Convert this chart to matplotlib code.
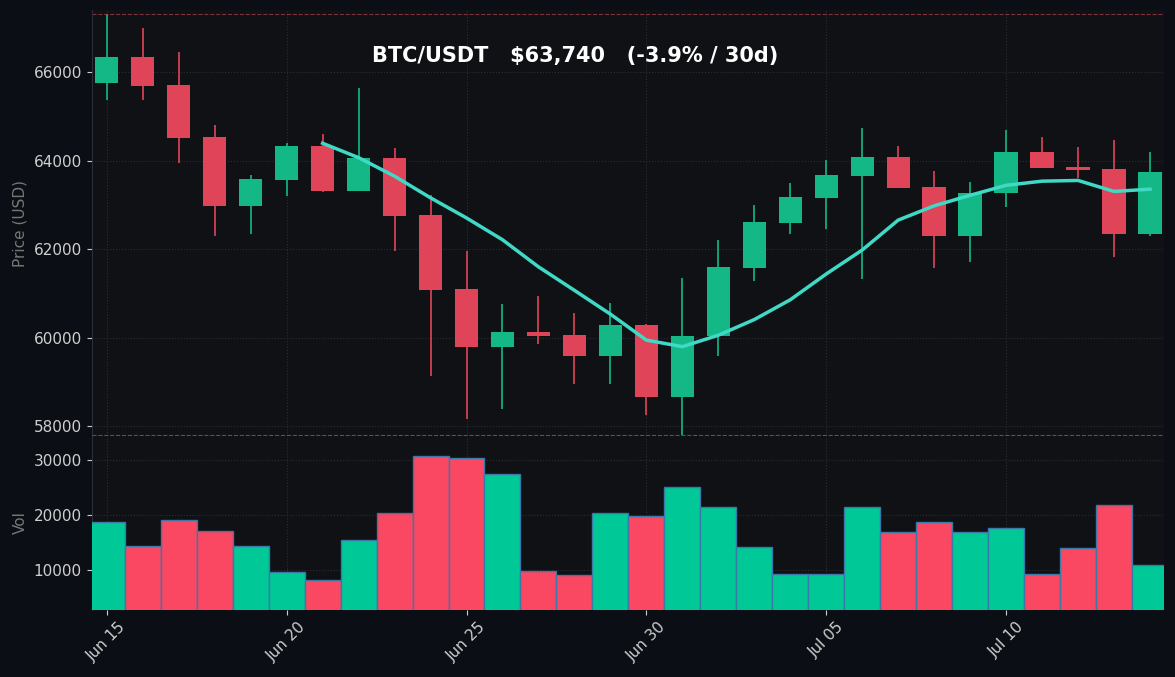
import numpy as np
import pandas as pd
import matplotlib
matplotlib.use("Agg")
import matplotlib.pyplot as plt

dates = pd.date_range("2024-06-15", periods=30, freq="D")
opens  = [65752,66338,65707,64535,62980,63566,64332,63318,64062,62777,61109,59801,60140,60072,59598,
          60297,58652,60050,61583,62597,63160,63656,64084,63408,62304,63273,64197,63859,63814,62349]
closes = [66338,65684,64512,62980,63588,64332,63318,64062,62754,61086,59801,60140,60050,59598,60297,
          58652,60050,61605,62619,63182,63678,64084,63385,62304,63273,64197,63836,63791,62349,63740]
highs  = [67307,66992,66451,64805,63678,64400,64603,65640,64287,63228,61965,60771,60951,60568,60793,
          60300,61357,62213,63002,63498,64016,64738,64332,63768,63520,64693,64535,64310,64467,64197]
lows   = [65369,65369,63949,62304,62349,63205,63295,63318,61965,59125,58156,58381,59869,58945,58945,
          58246,57800,59598,61289,62349,62461,61334,63385,61582,61717,62957,63836,63611,61830,62304]
volumes = [18727,14363,19090,17090,14363,9636,8182,15454,20363,30727,30363,27454,9818,9090,20363,
           19818,25090,21454,14182,9272,9272,21454,16909,18727,16909,17636,9272,14000,21818,10909]
title = "BTC/USDT   $63,740   (-3.9% / 30d)"

GREEN, RED = "#13b886", "#e04459"
VG, VR = "#00c896", "#fa4762"
BG, AX = "#0b0e14", "#0f1115"
x = np.arange(len(dates))
o, c, h, l = map(np.array, (opens, closes, highs, lows))
up = c >= o
ma = pd.Series(closes).rolling(7).mean()

fig = plt.figure(figsize=(11.75, 6.77), dpi=100, facecolor=BG)
ax = fig.add_axes([0.078, 0.356, 0.913, 0.629], facecolor=AX)
axv = fig.add_axes([0.078, 0.099, 0.913, 0.257], facecolor=AX, sharex=ax)

for i in x:
    col = GREEN if up[i] else RED
    ax.vlines(i, l[i], h[i], color=col, lw=1.2, zorder=2)
    lo, hi = min(o[i], c[i]), max(o[i], c[i])
    ax.bar(i, max(hi - lo, 30), bottom=lo, width=0.65, color=col, zorder=3)
ax.plot(x, ma, color="#3fd9c6", lw=2.5, zorder=4)
ax.axhline(max(highs), color="#b0404f", ls="--", lw=0.8, alpha=0.7)
ax.axhline(min(lows), color="#1e9e80", ls="--", lw=0.8, alpha=0.7, zorder=5)
ax.text(0.451, 0.892, title, transform=ax.transAxes, ha="center", va="center",
        color="white", fontsize=15, fontweight="bold")
ax.set_ylim(57780, 67400)
ax.set_yticks([58000, 60000, 62000, 64000, 66000])
ax.set_ylabel("Price (USD)", color="#777777", fontsize=11)

axv.bar(x, volumes, width=1.0, color=[VG if u else VR for u in up],
        edgecolor="#3a78a8", linewidth=1, zorder=3)
axv.set_ylim(2700, 34400)
axv.set_yticks([10000, 20000, 30000])
axv.set_ylabel("Vol", color="#777777", fontsize=11)
axv.set_xlim(-0.42, 29.4)
ticks = list(range(0, 30, 5))
axv.set_xticks(ticks)
axv.set_xticklabels([dates[t].strftime("%b %d") for t in ticks], rotation=45)
plt.setp(ax.get_xticklabels(), visible=False)

for a in (ax, axv):
    a.grid(True, color="#2a2e36", ls=":", lw=0.8, zorder=0)
    a.set_axisbelow(True)
    a.tick_params(colors="#cfcfcf", labelsize=11)
    for s in a.spines.values():
        s.set_visible(False)
    a.spines["left"].set_visible(True)
    a.spines["left"].set_color("#2a3038")
ax.tick_params(axis="x", length=0)

fig.savefig("out.png", dpi=100, facecolor=BG)
